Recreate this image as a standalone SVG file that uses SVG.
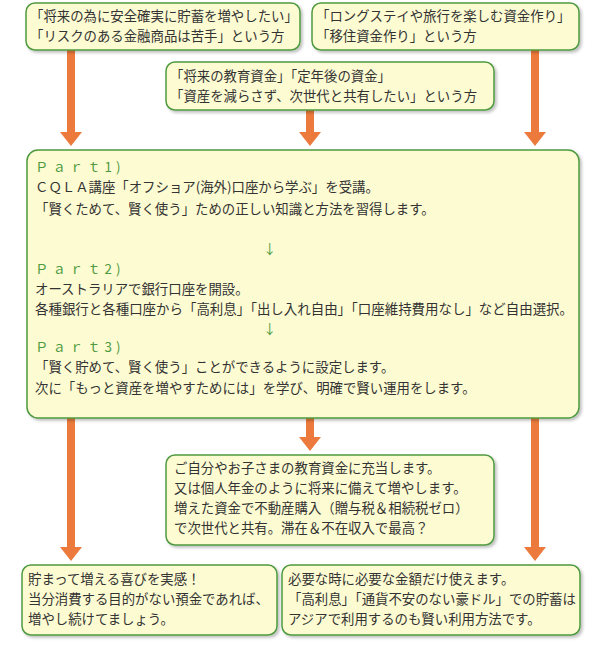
<svg xmlns="http://www.w3.org/2000/svg" width="600" height="650" viewBox="0 0 600 650">
<defs>
<style>
.b{fill:#fdfbd2;stroke:#4f9a3f;stroke-width:1.5}
text{font-family:"Noto Sans CJK JP","Noto Sans",sans-serif;font-size:13.4px;fill:#333}
.g{fill:#4f9a3f}
.a{stroke:#ec7a3c;stroke-width:8;fill:none}
.h{fill:#ec7a3c}
</style>
<filter id="s" x="-5%" y="-5%" width="110%" height="115%"><feDropShadow dx="2" dy="2" stdDeviation="1.5" flood-opacity="0.25"/></filter>
</defs>
<g id="connectors">
<line class="a" x1="71" y1="50" x2="71" y2="133"/><polygon class="h" points="60,132 82,132 71,146"/>
<line class="a" x1="310" y1="110" x2="310" y2="133"/><polygon class="h" points="299,132 321,132 310,146"/>
<line class="a" x1="535" y1="50" x2="535" y2="133"/><polygon class="h" points="524,132 546,132 535,146"/>
<line class="a" x1="71" y1="418" x2="71" y2="548"/><polygon class="h" points="60,547 82,547 71,561"/>
<line class="a" x1="310" y1="418" x2="310" y2="438"/><polygon class="h" points="299,437 321,437 310,451"/>
<line class="a" x1="535" y1="418" x2="535" y2="548"/><polygon class="h" points="524,547 546,547 535,561"/>
</g>
<g id="n1"><rect class="b" filter="url(#s)" x="26" y="3" width="274" height="47" rx="9"/>
<text x="30" y="21">「将来の為に安全確実に貯蓄を増やしたい」</text><text x="30" y="41">「リスクのある金融商品は苦手」という方</text></g>
<g id="n2"><rect class="b" filter="url(#s)" x="312" y="3" width="267" height="47" rx="9"/>
<text x="316" y="21">「ロングステイや旅行を楽しむ資金作り」</text><text x="316" y="41">「移住資金作り」という方</text></g>
<g id="n3"><rect class="b" filter="url(#s)" x="166" y="62" width="328" height="48" rx="9"/>
<text x="170" y="81">「将来の教育資金」「定年後の資金」</text><text x="170" y="101">「資産を減らさず、次世代と共有したい」という方</text></g>
<g id="main"><rect class="b" filter="url(#s)" x="27" y="150" width="552" height="268" rx="11"/>
<text class="g" x="35" y="172" letter-spacing="4">Ｐａｒｔ1)</text>
<text x="35" y="192">ＣＱＬＡ講座「オフショア(海外)口座から学ぶ」を受講。</text>
<text x="35" y="214">「賢くためて、賢く使う」ための正しい知識と方法を習得します。</text>
<text class="g" x="263" y="254">↓</text>
<text class="g" x="35" y="274" letter-spacing="4">Ｐａｒｔ2)</text>
<text x="35" y="294">オーストラリアで銀行口座を開設。</text>
<text x="35" y="314" textLength="538" lengthAdjust="spacingAndGlyphs">各種銀行と各種口座から「高利息」「出し入れ自由」「口座維持費用なし」など自由選択。</text>
<text class="g" x="263" y="334">↓</text>
<text class="g" x="35" y="352" letter-spacing="4">Ｐａｒｔ3)</text>
<text x="35" y="372">「賢く貯めて、賢く使う」ことができるように設定します。</text>
<text x="35" y="393">次に「もっと資産を増やすためには」を学び、明確で賢い運用をします。</text></g>
<g id="n4"><rect class="b" filter="url(#s)" x="166" y="455" width="328" height="90" rx="9"/>
<text x="174" y="473">ご自分やお子さまの教育資金に充当します。</text><text x="174" y="493">又は個人年金のように将来に備えて増やします。</text>
<text x="174" y="513">増えた資金で不動産購入（贈与税＆相続税ゼロ）</text><text x="174" y="533">で次世代と共有。滞在＆不在収入で最高？</text></g>
<g id="n5"><rect class="b" filter="url(#s)" x="22" y="565" width="255" height="70" rx="9"/>
<text x="28" y="584">貯まって増える喜びを実感！</text><text x="28" y="604">当分消費する目的がない預金であれば、</text><text x="28" y="624">増やし続けてましょう。</text></g>
<g id="n6"><rect class="b" filter="url(#s)" x="282" y="565" width="298" height="70" rx="9"/>
<text x="288" y="584">必要な時に必要な金額だけ使えます。</text><text x="288" y="604">「高利息」「通貨不安のない豪ドル」での貯蓄は</text><text x="288" y="624">アジアで利用するのも賢い利用方法です。</text></g>
</svg>
